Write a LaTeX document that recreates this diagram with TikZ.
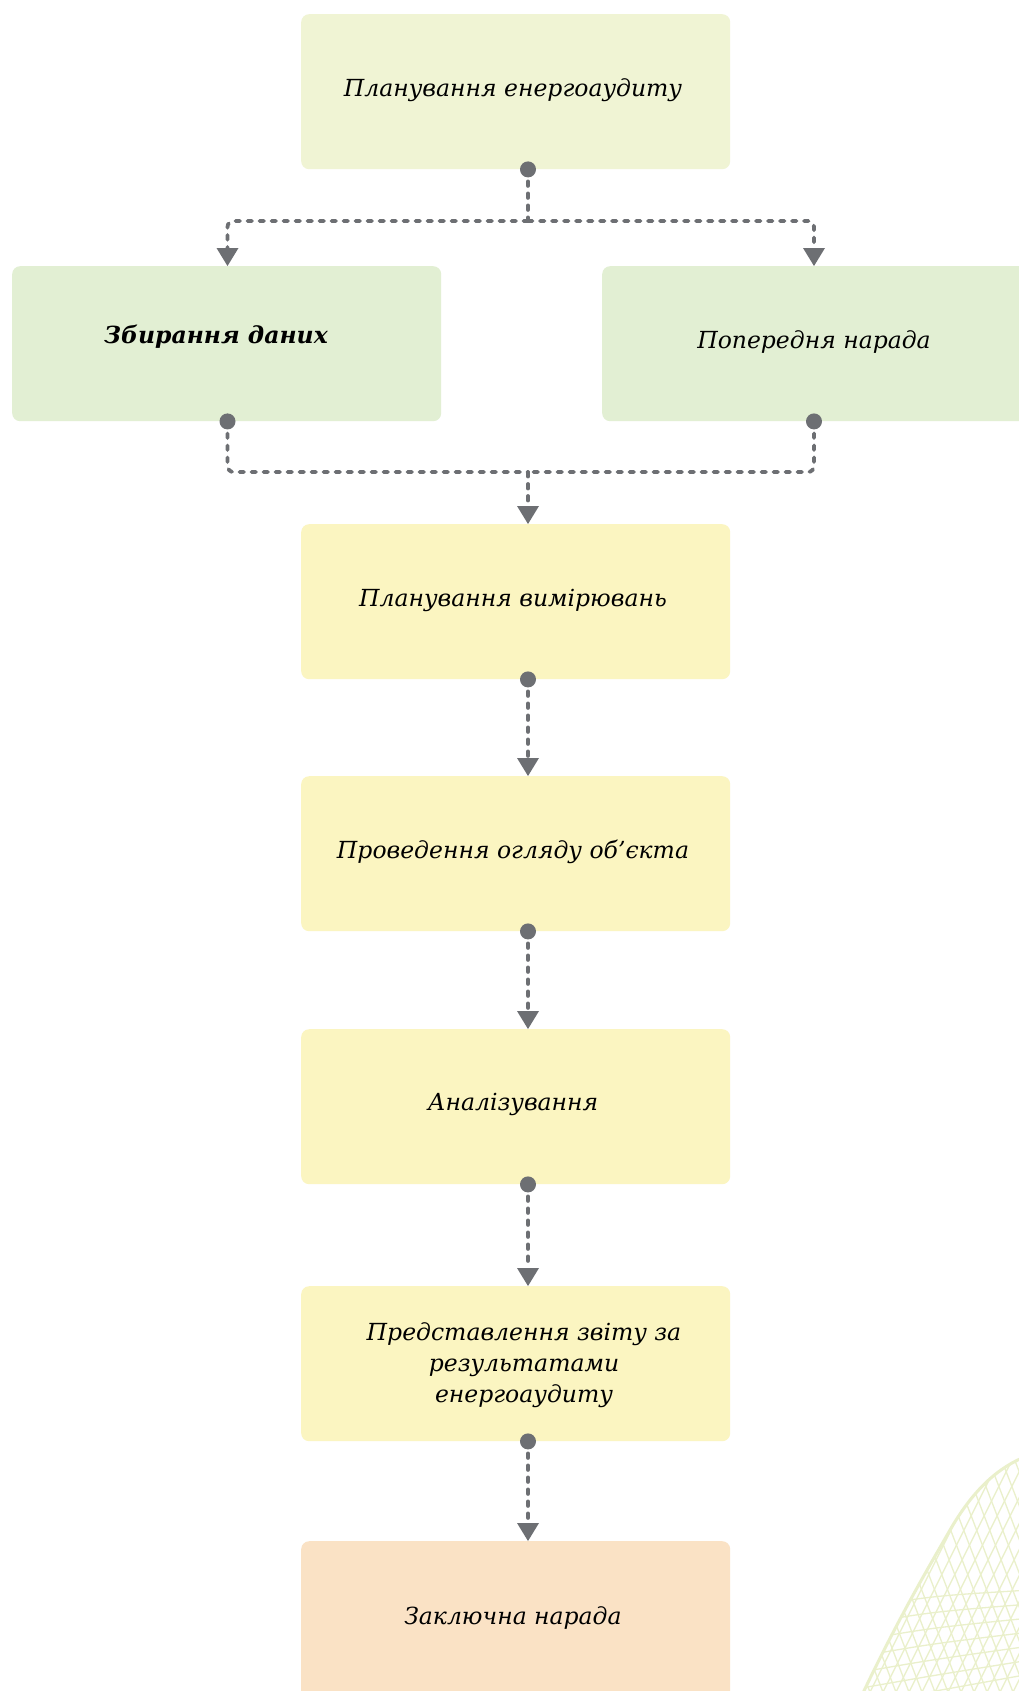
\documentclass[tikz,border=0pt]{standalone}
\usepackage{fontspec}
\setmainfont{DejaVu Serif}
\usetikzlibrary{arrows.meta}
\definecolor{cTop}{HTML}{F0F4D4}
\definecolor{cGreen}{HTML}{E2EFD3}
\definecolor{cYellow}{HTML}{FBF5C1}
\definecolor{cOrange}{HTML}{FAE2C5}
\definecolor{cLine}{HTML}{6D6F73}
\definecolor{cMesh}{HTML}{EAF0CB}
\begin{document}
\begin{tikzpicture}[x=1pt,y=-1pt,
  box/.style={rounded corners=8pt, minimum width=429pt, minimum height=155pt, inner sep=0pt, anchor=north west, draw=none},
  lbl/.style={font=\fontsize{23.5}{31}\selectfont\itshape, align=center, inner sep=0pt, text=black},
  conn/.style={draw=cLine, line width=3.8pt, line cap=round, dash pattern=on 4.5pt off 7.5pt, rounded corners=6pt},
  tip/.style={-{Triangle[width=22pt,length=18pt,line width=0pt]}, shorten >=0pt},
  dotc/.style={fill=cLine}
]
\useasboundingbox (0,0) rectangle (1018,1691);
\fill[white] (0,0) rectangle (1018,1691);

% mesh decoration
\begin{scope}
\clip (862,1695) .. controls (900,1615) and (930,1565) .. (950,1530) .. controls (972,1492) and (995,1470) .. (1022,1458) -- (1022,1695) -- cycle;
\foreach \k in {0,...,30} {
  \draw[cMesh, line width=1.3pt] (840+13*\k,1700) -- ++(130,-260);
  \draw[cMesh, line width=1.3pt] (860+13*\k,1700) -- ++(-100,-260);
}
\foreach \k in {0,...,6} {
  \draw[cMesh, line width=1.3pt] (850,1610+16*\k) .. controls (930,1596+16*\k) .. (1030,1590+14*\k);
}
\end{scope}
\draw[cMesh, line width=3pt] (862,1695) .. controls (900,1615) and (930,1565) .. (950,1530) .. controls (972,1492) and (995,1470) .. (1022,1458);

% boxes
\node[box, fill=cTop]    (b1) at (301,14)   {};
\node[box, fill=cGreen]  (b2) at (12,266)   {};
\node[box, fill=cGreen]  (b3) at (602,266)  {};
\node[box, fill=cYellow] (b4) at (301,524)  {};
\node[box, fill=cYellow] (b5) at (301,776)  {};
\node[box, fill=cYellow] (b6) at (301,1029) {};
\node[box, fill=cYellow] (b7) at (301,1286) {};
\node[box, fill=cOrange, minimum height=170pt] (b8) at (301,1541) {};

% labels
\node[lbl] (t1) at (513,90)   {Планування енергоаудиту};
\node[lbl, font=\fontsize{23.5}{31}\selectfont\bfseries\itshape] (t2) at (216,337) {Збирання даних};
\node[lbl] (t3) at (814,342)  {Попередня нарада};
\node[lbl] (t4) at (513,600)  {Планування вимірювань};
\node[lbl] (t5) at (513,852)  {Проведення огляду об’єкта};
\node[lbl] (t6) at (513,1104) {Аналізування};
\node[lbl] (t7) at (524,1365) {Представлення звіту за\\результатами\\енергоаудиту};
\node[lbl] (t8) at (513,1618) {Заключна нарада};

% connector helper coordinates
\coordinate (cx) at (528,0);
\coordinate (lx) at (227.5,0);
\coordinate (rx) at (814,0);
\coordinate (split) at (528,221);
\coordinate (merge) at (528,472);

% top split
\draw[conn] (b1.south -| cx) -- (split);
\draw[conn, tip] (split) -| (b2.north -| lx);
\draw[conn, tip] (split) -| (b3.north -| rx);
\fill[dotc] (b1.south -| cx) circle (8pt);

% merge
\draw[conn] (b2.south -| lx) |- (merge);
\draw[conn] (b3.south -| rx) |- (merge);
\draw[conn, tip] (merge) -- (b4.north -| cx);
\fill[dotc] (b2.south -| lx) circle (8pt);
\fill[dotc] (b3.south -| rx) circle (8pt);

% chain
\draw[conn, tip] (b4.south -| cx) -- (b5.north -| cx);
\draw[conn, tip] (b5.south -| cx) -- (b6.north -| cx);
\draw[conn, tip] (b6.south -| cx) -- (b7.north -| cx);
\draw[conn, tip] (b7.south -| cx) -- (b8.north -| cx);
\fill[dotc] (b4.south -| cx) circle (8pt);
\fill[dotc] (b5.south -| cx) circle (8pt);
\fill[dotc] (b6.south -| cx) circle (8pt);
\fill[dotc] (b7.south -| cx) circle (8pt);
\end{tikzpicture}
\end{document}
